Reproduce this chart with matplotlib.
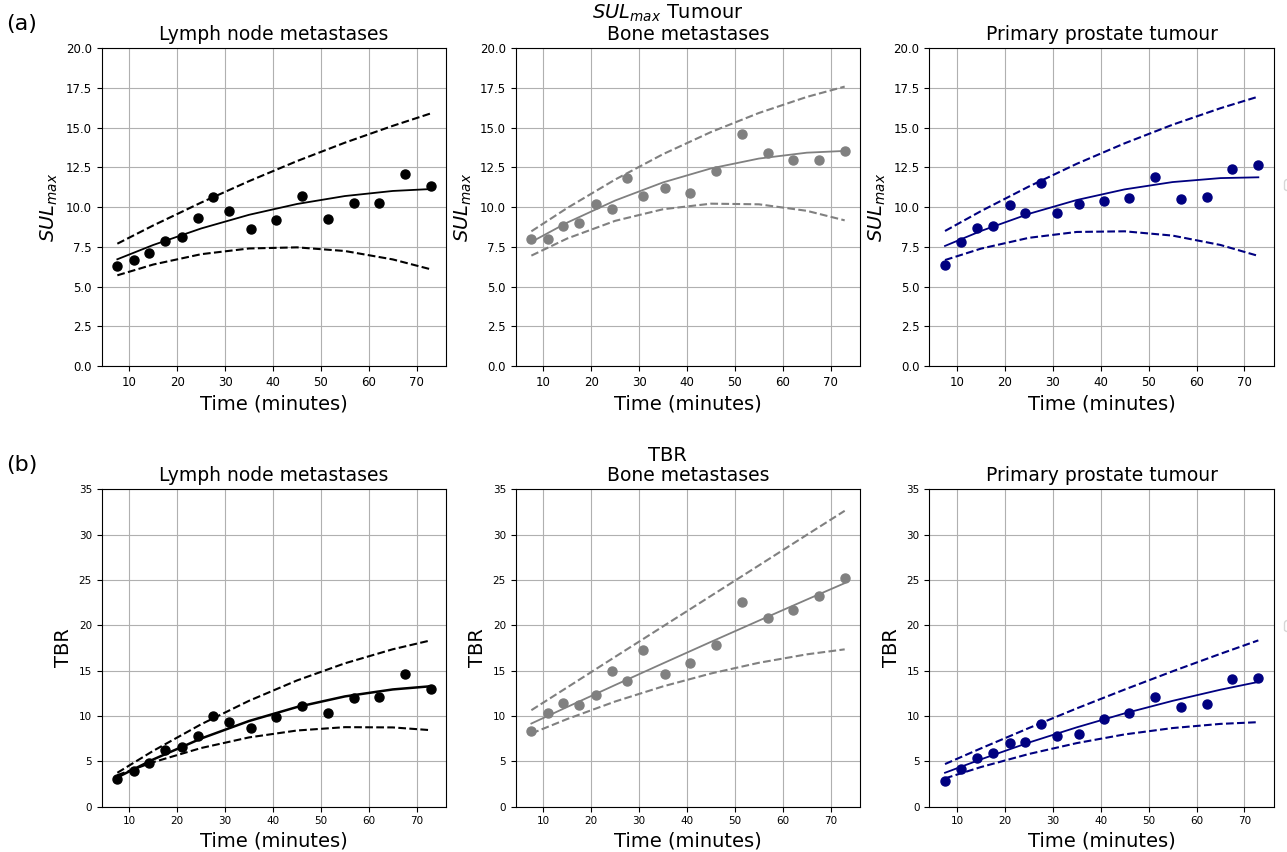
import matplotlib
matplotlib.use("Agg")
import matplotlib.pyplot as plt

# acquisition times (minutes) of the dynamic frames
timePoints = [7.5, 10.9, 14.2, 17.5, 21.0, 24.3, 27.5, 30.9, 35.4, 40.7, 46.0, 51.4, 56.8, 62.2, 67.5, 72.9]
fitTimes = [7.5, 15, 25, 35, 45, 55, 65, 72.9]

regionNames = ["Lymph node metastases", "Bone metastases", "Primary prostate tumour"]
regionColors = ["black", "grey", "navy"]

# SUL_max
sulLymph = [6.30, 6.67, 7.11, 7.85, 8.14, 9.32, 10.64, 9.76, 8.65, 9.17, 10.72, 9.25, 10.28, 10.28, 12.11, 11.31]
sulLymphFit = [6.72, 7.62, 8.66, 9.52, 10.20, 10.70, 11.02, 11.14]
sulLymphHigh = [7.70, 8.85, 10.29, 11.64, 12.90, 14.06, 15.12, 15.90]
sulLymphLow = [5.71, 6.39, 7.04, 7.40, 7.47, 7.24, 6.71, 6.09]

sulBone = [7.97, 8.00, 8.81, 9.02, 10.20, 9.91, 11.82, 10.70, 11.23, 10.87, 12.28, 14.61, 13.43, 12.99, 12.99, 13.52]
sulBoneFit = [7.81, 9.03, 10.42, 11.56, 12.44, 13.06, 13.43, 13.54]
sulBoneHigh = [8.48, 9.95, 11.74, 13.34, 14.73, 15.93, 16.94, 17.59]
sulBoneLow = [6.95, 8.03, 9.14, 9.87, 10.22, 10.18, 9.77, 9.17]

sulPrimary = [6.38, 7.79, 8.67, 8.81, 10.14, 9.61, 11.52, 9.61, 10.20, 10.41, 10.56, 11.90, 10.49, 10.66, 12.40, 12.63]
sulPrimaryFit = [7.56, 8.50, 9.58, 10.45, 11.12, 11.58, 11.83, 11.88]
sulPrimaryHigh = [8.50, 9.75, 11.30, 12.73, 14.02, 15.19, 16.23, 16.96]
sulPrimaryLow = [6.67, 7.39, 8.07, 8.44, 8.48, 8.21, 7.62, 6.93]

# TBR
tbrLymph = [3.01, 3.93, 4.77, 6.24, 6.53, 7.81, 9.98, 9.35, 8.69, 9.87, 11.12, 10.34, 12.00, 12.11, 14.60, 12.95]
tbrLymphFit = [3.23, 5.21, 7.52, 9.45, 10.99, 12.16, 12.93, 13.28]
tbrLymphHigh = [3.74, 6.16, 9.09, 11.68, 13.92, 15.81, 17.36, 18.34]
tbrLymphLow = [3.48, 4.91, 6.47, 7.64, 8.40, 8.77, 8.74, 8.44]

tbrBone = [8.36, 10.34, 11.48, 11.23, 12.29, 14.97, 13.83, 17.24, 14.60, 15.88, 17.79, 22.56, 20.80, 21.64, 23.22, 25.24]
tbrBoneFit = [9.17, 11.00, 13.42, 15.81, 18.18, 20.52, 22.84, 24.65]
tbrBoneHigh = [10.64, 13.16, 16.53, 19.89, 23.25, 26.61, 29.98, 32.63]
tbrBoneLow = [8.07, 9.67, 11.60, 13.27, 14.69, 15.87, 16.80, 17.35]

tbrPrimary = [2.86, 4.15, 5.32, 5.94, 6.97, 7.08, 9.17, 7.78, 8.00, 9.68, 10.34, 12.14, 11.01, 11.37, 14.05, 14.20]
tbrPrimaryFit = [3.74, 5.22, 7.07, 8.75, 10.29, 11.67, 12.90, 13.76]
tbrPrimaryHigh = [4.70, 6.43, 8.67, 10.84, 12.92, 14.93, 16.86, 18.34]
tbrPrimaryLow = [3.12, 4.37, 5.81, 7.01, 7.97, 8.67, 9.13, 9.32]

sulSeries = [
    (sulLymph, sulLymphFit, sulLymphHigh, sulLymphLow),
    (sulBone, sulBoneFit, sulBoneHigh, sulBoneLow),
    (sulPrimary, sulPrimaryFit, sulPrimaryHigh, sulPrimaryLow),
]
tbrSeries = [
    (tbrLymph, tbrLymphFit, tbrLymphHigh, tbrLymphLow),
    (tbrBone, tbrBoneFit, tbrBoneHigh, tbrBoneLow),
    (tbrPrimary, tbrPrimaryFit, tbrPrimaryHigh, tbrPrimaryLow),
]


def plotPanel(ax, series, color, title, yLabel, yMax, yStep, tickSize, yFormat, lineWidth):
    values, fit, high, low = series
    ax.plot(timePoints, values, 'o', color=color, markersize=6.5)
    ax.plot(fitTimes, fit, '-', color=color, linewidth=lineWidth)
    ax.plot(fitTimes, high, '--', color=color, linewidth=1.5)
    ax.plot(fitTimes, low, '--', color=color, linewidth=1.5)
    ax.set_ylim(0, yMax)
    yTicks = [i * yStep for i in range(int(round(yMax / yStep)) + 1)]
    ax.set_yticks(yTicks)
    ax.set_yticklabels([yFormat % t for t in yTicks])
    ax.set_xticks([10, 20, 30, 40, 50, 60, 70])
    ax.tick_params(labelsize=tickSize)
    ax.grid(True)
    ax.set_title(title, fontsize=13.5)
    ax.set_xlabel("Time (minutes)", fontsize=14)
    ax.set_ylabel(yLabel, fontsize=14)


fig = plt.figure(figsize=(12.87, 8.52), dpi=100)

colLefts = [0.0790, 0.4007, 0.7221]
colWidth = 0.2678
rowA = (0.5704, 0.3729)
rowB = (0.0532, 0.3725)

for i in range(3):
    axA = fig.add_axes([colLefts[i], rowA[0], colWidth, rowA[1]])
    plotPanel(axA, sulSeries[i], regionColors[i], regionNames[i], "$SUL_{max}$", 20, 2.5, 8.5, "%.1f", 1.3)
    axB = fig.add_axes([colLefts[i], rowB[0], colWidth, rowB[1]])
    plotPanel(axB, tbrSeries[i], regionColors[i], regionNames[i], "TBR", 35, 5, 7.5, "%d",
              1.8 if i == 0 else 1.3)
    if i == 2:
        # empty legend boxes sitting on the right edge
        axA.legend(handles=[], loc='center left', bbox_to_anchor=(1.01, 0.57))
        axB.legend(handles=[], loc='center left', bbox_to_anchor=(1.01, 0.57))

fig.text(0.5187, 0.9845, "$SUL_{max}$ Tumour", fontsize=14, ha='center', va='center')
fig.text(0.5187, 0.4655, "TBR", fontsize=14, ha='center', va='center')
fig.text(0.005, 0.972, "(a)", fontsize=16, ha='left', va='center')
fig.text(0.005, 0.454, "(b)", fontsize=16, ha='left', va='center')

fig.savefig("out.png", dpi=100)
